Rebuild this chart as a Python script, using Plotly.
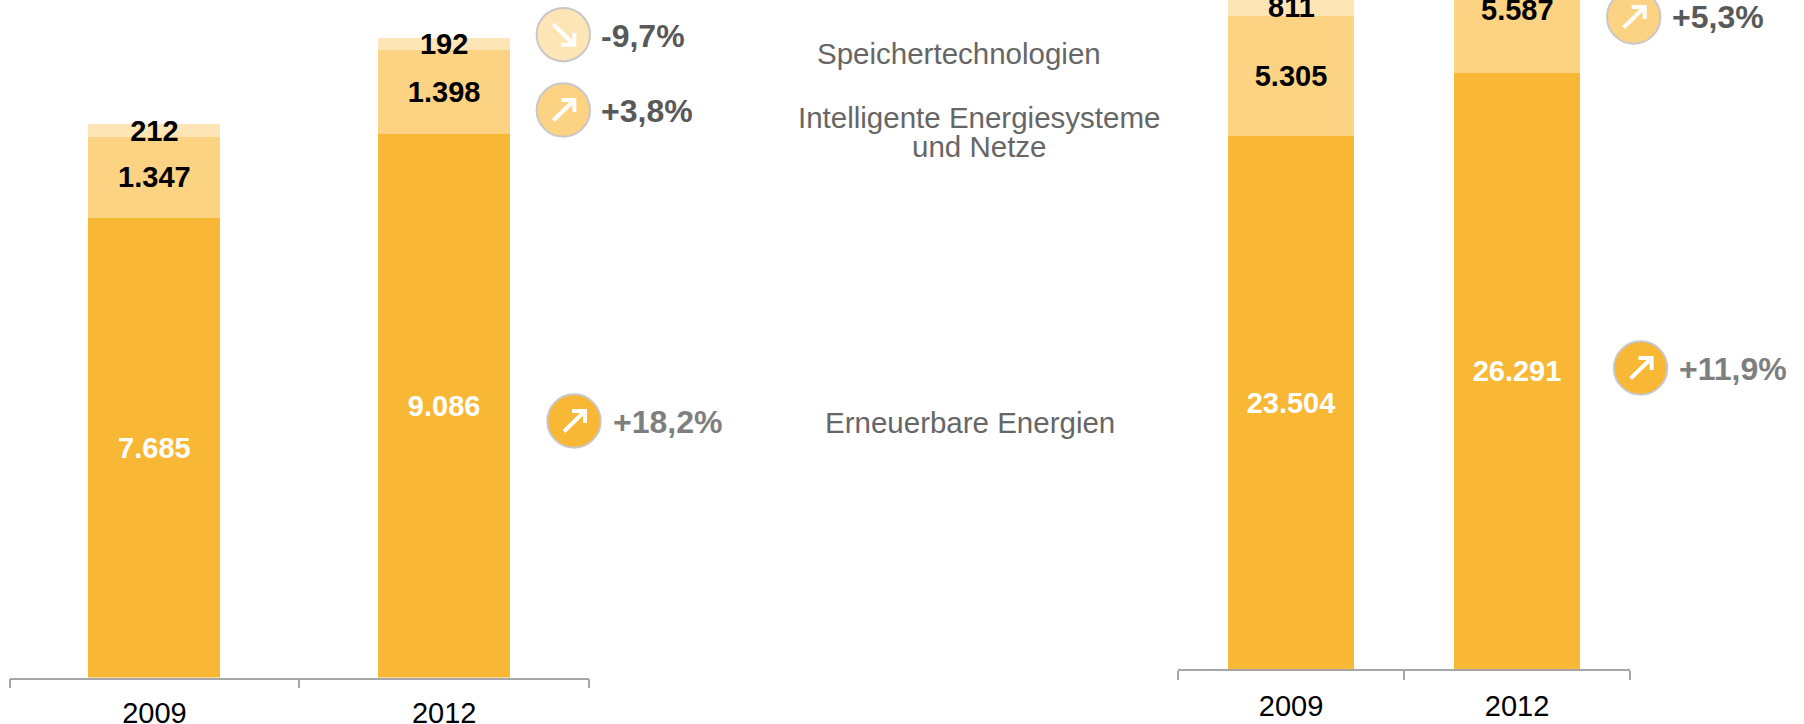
import plotly.graph_objects as go

W, H = 1804, 724
years = ["2009", "2012"]
renewables_left = [7685, 9086]
grids_left = [1347, 1398]
storage_left = [212, 192]
renewables_right = [23504, 26291]
grids_right = [5305, 5587]
storage_right = [811, None]

COL = {"main": "#F8B735", "mid": "#FCD283", "light": "#FEE5B6"}
FONT = "Liberation Sans, Arial, sans-serif"
AXIS = "#A6A6A6"
YMAX_RIGHT = 29523


def fmt(v):
    return "" if v is None else f"{v:,}".replace(",", ".")


def px(x):
    return x / W


def py(y):
    return 1 - y / H


fig = go.Figure()
groups = [
    ("x", "y", renewables_left, grids_left, storage_left, 0.455),
    ("x2", "y2", renewables_right, grids_right, storage_right, 0.555),
]
for xa, ya, main, mid, light, width in groups:
    for vals, col, tc in [(main, COL["main"], "white"), (mid, COL["mid"], "black"), (light, COL["light"], "black")]:
        fig.add_bar(
            x=years, y=vals, xaxis=xa, yaxis=ya, width=width,
            marker=dict(color=col, line=dict(width=0)),
            text=[fmt(v) for v in vals], textposition="inside", insidetextanchor="middle",
            textangle=0, constraintext="none", cliponaxis=False,
            textfont=dict(family=FONT, size=29, color=tc, weight="bold"),
            showlegend=False, hoverinfo="skip",
        )

axis_common = dict(
    type="category", tickson="boundaries", ticks="outside", ticklen=9, tickwidth=1.5,
    tickcolor=AXIS, showline=True, linecolor=AXIS, linewidth=1.5, showgrid=False, zeroline=False,
    automargin=False, range=[-0.5, 1.5], tickangle=0,
    tickfont=dict(family=FONT, size=29, color="black"),
)
fig.update_layout(
    width=W, height=H, margin=dict(l=0, r=0, t=0, b=0), barmode="stack",
    paper_bgcolor="white", plot_bgcolor="white", autosize=False,
    xaxis=dict(domain=[px(9.5), px(589)], anchor="y", ticklabelstandoff=9, **axis_common),
    xaxis2=dict(domain=[px(1178), px(1630)], anchor="y2", ticklabelstandoff=10, **axis_common),
    yaxis=dict(domain=[py(677.6), 1], range=[0, 11318], visible=False, anchor="x"),
    yaxis2=dict(domain=[py(669), 1], range=[0, YMAX_RIGHT], visible=False, anchor="x2"),
)

# Growth badges: (circle x, circle y, fill, direction, label, label x, label y, label colour)
badges = [
    (563.3, 34.7, COL["light"], "down", "-9,7%", 598.5, 35.6, "#595959"),
    (563.3, 110, COL["mid"], "up", "+3,8%", 598.5, 110.5, "#595959"),
    (574, 421, COL["main"], "up", "+18,2%", 610.5, 422, "#7F7F7F"),
    (1633.7, 17, COL["mid"], "up", "+5,3%", 1670, 17, "#595959"),
    (1640.6, 368, COL["main"], "up", "+11,9%", 1676.5, 369, "#7F7F7F"),
]
R = 26.7
shapes, annotations = [], []
for cx, cy, fill, d, label, lx, ly, lc in badges:
    shapes.append(dict(type="circle", xref="paper", yref="paper",
                       x0=px(cx - R), x1=px(cx + R), y0=py(cy + R), y1=py(cy - R),
                       fillcolor=fill, line=dict(color="#C8C8C8", width=2)))
    s = -1 if d == "up" else 1
    pts = {
        "shaft": [(-10, -10.5 * s), (11, 10 * s)],
        "head": [(-2, 10 * s), (11, 10 * s), (11, -2 * s)],
    }
    for seg in pts.values():
        path = "M " + " L ".join(f"{px(cx + a):.5f},{py(cy + b):.5f}" for a, b in seg)
        shapes.append(dict(type="path", xref="paper", yref="paper", path=path,
                           line=dict(color="white", width=4)))
    annotations.append(dict(text=label, x=px(lx), y=py(ly), xref="paper", yref="paper",
                            xanchor="left", yanchor="middle", showarrow=False,
                            font=dict(family=FONT, size=32, color=lc, weight="bold")))

category_labels = [
    ("Speichertechnologien", 958.5, 54),
    ("Intelligente Energiesysteme", 979, 117),
    ("und Netze", 979, 147),
    ("Erneuerbare Energien", 970, 422),
]
for t, x, y in category_labels:
    annotations.append(dict(text=t, x=px(x), y=py(y), xref="paper", yref="paper",
                            xanchor="center", yanchor="middle", showarrow=False,
                            font=dict(family=FONT, size=29.5, color="#666666")))

# Labels of the segments that run past the top edge: plotly drops their inside text.
# x is the category index, because year strings would be read as serial numbers.
clipped = [
    (0, renewables_right[0] + grids_right[0] + storage_right[0] / 2, storage_right[0]),
    (1, renewables_right[1] + grids_right[1] / 2, grids_right[1]),
]
for idx, y, v in clipped:
    annotations.append(dict(text=fmt(v), x=idx, y=y, xref="x2", yref="y2",
                            xanchor="center", yanchor="middle", showarrow=False,
                            font=dict(family=FONT, size=29, color="black", weight="bold")))

fig.update_layout(shapes=shapes, annotations=annotations)
fig.write_html("out.html", config=dict(displayModeBar=False),
               post_script="document.body.style.margin='0';document.body.style.overflow='hidden';")
